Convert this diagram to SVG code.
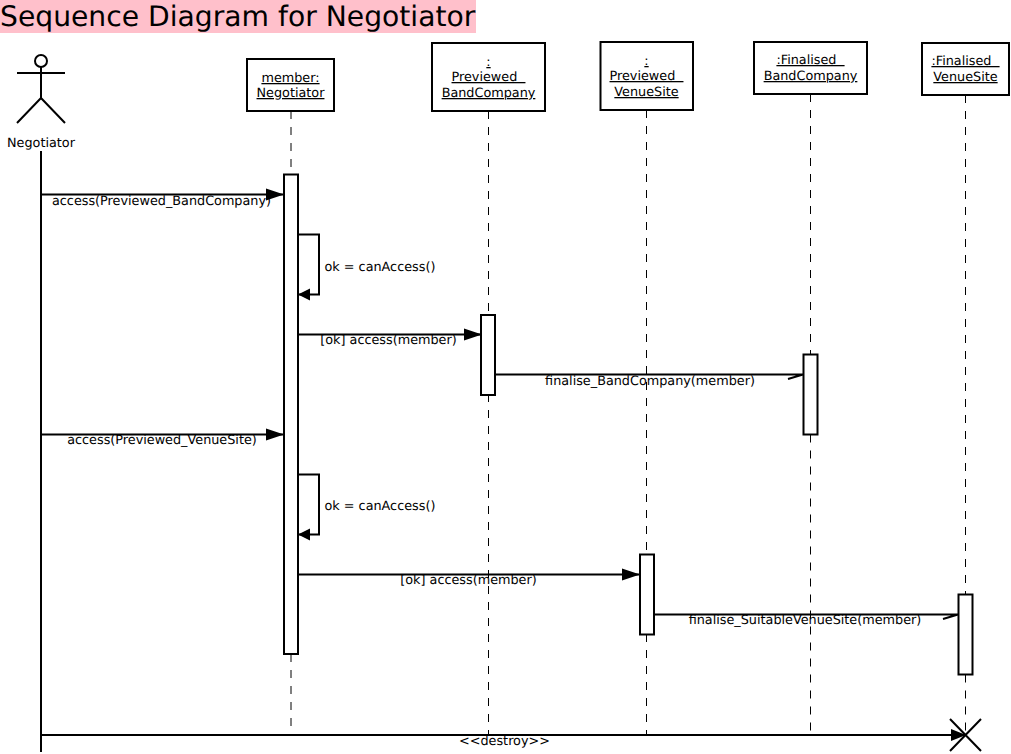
<svg xmlns="http://www.w3.org/2000/svg" width="1011" height="754" viewBox="0 0 1011 754">
<style>
text{font-family:"DejaVu Sans",sans-serif;font-size:12.8px;fill:#000;white-space:pre;text-rendering:geometricPrecision}
.m{text-anchor:middle}
.u{text-anchor:middle;text-decoration:underline}
.box{fill:#fff;stroke:#000;stroke-width:2}
.act{fill:#fff;stroke:#000;stroke-width:2}
.life{fill:none;stroke:#000;stroke-width:1;stroke-dasharray:8 8}
.line{fill:none;stroke:#000;stroke-width:2}
.head{fill:#000;stroke:none}
</style>
<rect x="0" y="0" width="476" height="33" fill="#ffc0cb"/>
<text x="0" y="26" style="font-size:28.2px">Sequence Diagram for Negotiator</text>
<g id="lifelines">
<path class="life" d="M291 111V174M291 654V735"/>
<path class="life" d="M488.500 111V315M488.500 394V735"/>
<path class="life" d="M646.500 110V554M646.500 634V735"/>
<path class="life" d="M810.500 94V355M810.500 434.500V735"/>
<path class="life" d="M965.500 95V594M965.500 674.500V735"/>
</g>
<g id="actor-negotiator">
<circle cx="41" cy="61" r="6" fill="#fff" stroke="#000" stroke-width="2"/>
<path class="line" d="M41 67V98M17 73H65M17 123L41 98L65 123"/>
<text class="m" x="41" y="147">Negotiator</text>
<path class="line" d="M41 151V752"/>
</g>
<g id="node-member">
<rect class="box" x="247" y="59" width="87" height="52"/>
<text class="u" x="290.500" y="82">member:</text>
<text class="u" x="290.500" y="97">Negotiator</text>
<rect class="act" x="284" y="174.500" width="14" height="479.500"/>
</g>
<g id="node-previewed-band">
<rect class="box" x="432" y="43" width="113" height="68"/>
<text class="u" x="488.500" y="66">:</text>
<text class="u" x="488.500" y="81">Previewed  </text>
<text class="u" x="488.500" y="97">BandCompany</text>
<rect class="act" x="481" y="315" width="14" height="80"/>
</g>
<g id="node-previewed-venue">
<rect class="box" x="600.500" y="42" width="92.500" height="68"/>
<text class="u" x="646.500" y="65">:</text>
<text class="u" x="646.500" y="80">Previewed  </text>
<text class="u" x="646.500" y="96">VenueSite</text>
<rect class="act" x="640" y="554.500" width="14" height="80"/>
</g>
<g id="node-finalised-band">
<rect class="box" x="754" y="42" width="113" height="52"/>
<text class="u" x="810.500" y="64">:Finalised  </text>
<text class="u" x="810.500" y="80">BandCompany</text>
<rect class="act" x="803.500" y="354.500" width="14" height="80"/>
</g>
<g id="node-finalised-venue">
<rect class="box" x="922" y="43" width="87" height="52"/>
<text class="u" x="965.500" y="65">:Finalised  </text>
<text class="u" x="965.500" y="81">VenueSite</text>
<rect class="act" x="958.500" y="594.500" width="14" height="80"/>
</g>
<g id="connectors">
<path class="line" d="M41 194.500H284"/>
<polygon class="head" points="284,194.500 266,188.500 266,200.500"/>
<text class="m" x="161.500" y="205">access(Previewed_BandCompany)</text>

<path class="line" d="M298 234.500H319V294.500H298"/>
<polygon class="head" points="298,294.500 310,288.500 310,300.500"/>
<text x="324.500" y="271">ok = canAccess()</text>

<path class="line" d="M298 334.500H481"/>
<polygon class="head" points="482,334.500 464,328.500 464,340.500"/>
<text class="m" x="388.500" y="344">[ok] access(member)</text>

<path class="line" d="M495 374.500H803M788 379L803 374.500"/>
<text class="m" x="650" y="385">finalise_BandCompany(member)</text>

<path class="line" d="M41 434.500H284"/>
<polygon class="head" points="284,434.500 266,428.500 266,440.500"/>
<text class="m" x="162" y="444">access(Previewed_VenueSite)</text>

<path class="line" d="M298 474.500H319V534.500H298"/>
<polygon class="head" points="298,534.500 310,528.500 310,540.500"/>
<text x="324.500" y="510">ok = canAccess()</text>

<path class="line" d="M298 574.500H640"/>
<polygon class="head" points="640,574.500 622,568.500 622,580.500"/>
<text class="m" x="468.500" y="584">[ok] access(member)</text>

<path class="line" d="M654 614.500H958M943 619L958 614.500"/>
<text class="m" x="805" y="624">finalise_SuitableVenueSite(member)</text>

<path class="line" d="M41 735H965"/>
<polygon class="head" points="966,735 951,729 951,741"/>
<text class="m" x="504.500" y="745">&lt;&lt;destroy&gt;&gt;</text>
<path class="line" d="M950 719L981 751M981 719L950 751"/>
</g>
</svg>
